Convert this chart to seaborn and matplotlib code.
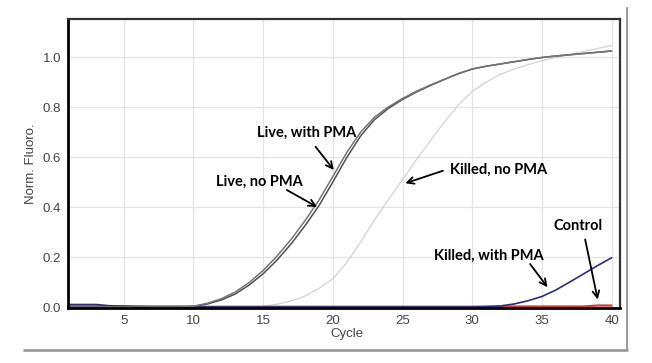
import pandas as pd
import matplotlib.pyplot as plt
import seaborn as sns
from matplotlib.lines import Line2D

# qPCR amplification curves
cycles = list(range(1, 41))

live_no_pma = [
    0.0, 0.0, 0.0, 0.0, 0.0, 0.0, 0.0, 0.0, 0.0, 0.002,
    0.012, 0.028, 0.052, 0.088, 0.133, 0.188, 0.252, 0.325, 0.405, 0.5,
    0.598, 0.685, 0.75, 0.795, 0.83, 0.86, 0.886, 0.91, 0.933, 0.952,
    0.963, 0.972, 0.981, 0.99, 0.998, 1.004, 1.009, 1.014, 1.019, 1.024,
]
live_with_pma = [
    0.0, 0.0, 0.0, 0.0, 0.0, 0.0, 0.0, 0.0, 0.0, 0.003,
    0.015, 0.033, 0.06, 0.098, 0.146, 0.204, 0.27, 0.345, 0.427, 0.522,
    0.618, 0.7, 0.76, 0.801, 0.834, 0.863, 0.888, 0.911, 0.934, 0.952,
    0.963, 0.972, 0.981, 0.99, 0.998, 1.004, 1.009, 1.014, 1.019, 1.024,
]
killed_no_pma = [
    0.0, 0.0, 0.0, 0.0, 0.0, 0.0, 0.0, 0.0, 0.0, 0.0,
    0.0, 0.0, 0.0, 0.0, 0.003, 0.011, 0.024, 0.044, 0.074, 0.113,
    0.178, 0.26, 0.35, 0.43, 0.51, 0.59, 0.665, 0.74, 0.808, 0.862,
    0.9, 0.93, 0.952, 0.97, 0.985, 0.998, 1.01, 1.022, 1.034, 1.046,
]
killed_with_pma = [
    0.01, 0.01, 0.01, 0.005, 0.003, 0.002, 0.001, 0.001, 0.001, 0.001,
    0.0, 0.0, 0.0, 0.0, 0.0, 0.0, 0.0, 0.0, 0.0, 0.0,
    0.0, 0.0, 0.0, 0.0, 0.0, 0.0, 0.0, 0.0, 0.0, 0.0,
    0.001, 0.004, 0.012, 0.025, 0.042, 0.068, 0.1, 0.133, 0.166, 0.197,
]
control = [
    0.003, 0.003, 0.003, 0.003, 0.003, 0.002, 0.002, 0.002, 0.002, 0.002,
    0.001, 0.001, 0.001, 0.001, 0.001, 0.001, 0.001, 0.001, 0.001, 0.001,
    0.001, 0.001, 0.001, 0.001, 0.001, 0.001, 0.001, 0.001, 0.001, 0.001,
    0.002, 0.002, 0.002, 0.002, 0.002, 0.002, 0.002, 0.002, 0.006, 0.006,
]

x_ticks = [5, 10, 15, 20, 25, 30, 35, 40]
y_ticks = [0.0, 0.2, 0.4, 0.6, 0.8, 1.0]

# label text position, arrow tail, arrow head (data coords)
labels = [
    ("Live, with PMA", (18.1, 0.696), (18.76, 0.641), (20.07, 0.548)),
    ("Live, no PMA", (14.75, 0.50), (16.7, 0.468), (18.87, 0.40)),
    ("Killed, no PMA", (31.9, 0.55), (27.9, 0.545), (25.2, 0.495)),
    ("Killed, with PMA", (31.2, 0.204), (34.15, 0.172), (35.4, 0.079)),
    ("Control", (37.6, 0.324), (38.1, 0.27), (39.0, 0.03)),
]

sns.set_theme(style="whitegrid")
plt.rcParams["font.family"] = ["Liberation Sans", "DejaVu Sans"]

series = [
    ("Killed, no PMA", killed_no_pma, "#d2d2d2", 0.9),
    ("Control", control, "#d23a3a", 1.6),
    ("Killed, with PMA", killed_with_pma, "#2e2e78", 1.2),
    ("Live, no PMA", live_no_pma, "#505050", 1.1),
    ("Live, with PMA", live_with_pma, "#757575", 1.1),
]

fig = plt.figure(figsize=(6.52, 3.63), dpi=100)
ax = fig.add_axes([68 / 652, 1 - 308 / 363, (620 - 68) / 652, (308 - 19) / 363])

for name, vals, color, lw in series:
    df = pd.DataFrame({"Cycle": cycles, "Norm. Fluoro.": vals})
    sns.lineplot(data=df, x="Cycle", y="Norm. Fluoro.", color=color,
                 linewidth=lw, ax=ax)

ax.set_xlim(1, 40.6)
ax.set_ylim(-0.004, 1.152)
ax.set_xticks(x_ticks)
ax.set_yticks(y_ticks)
ax.set_yticklabels([f"{v:.1f}" for v in y_ticks])
ax.grid(True, color="#e4e4e4", linewidth=0.9)
ax.tick_params(length=3, width=0.8, color="#555555", labelcolor="#444444",
               labelsize=9.5, pad=2)
ax.set_xlabel("Cycle", fontsize=9.5, color="#444444", labelpad=1, x=0.505)
ax.set_ylabel("Norm. Fluoro.", fontsize=9.5, color="#444444", labelpad=4)

for side in ["left", "bottom"]:
    ax.spines[side].set_color("black")
    ax.spines[side].set_linewidth(2)
for side in ["top", "right"]:
    ax.spines[side].set_color("#333333")
    ax.spines[side].set_linewidth(1.6)

for text, pos, tail, head in labels:
    ax.text(pos[0], pos[1], text, fontsize=10.5, fontweight="bold",
            family=["Lato", "DejaVu Sans"], ha="center", va="center",
            color="black")
    ax.annotate("", xy=head, xytext=tail,
                arrowprops=dict(arrowstyle="->", color="black", lw=1.3,
                                shrinkA=0, shrinkB=0))

# shadow-style frame around the picture
fig.add_artist(Line2D([24 / 652, 627 / 652], [1 - 350 / 363, 1 - 350 / 363],
                      color="#9a9a9a", linewidth=2))
fig.add_artist(Line2D([627 / 652, 627 / 652], [1 - 350 / 363, 1 - 8 / 363],
                      color="#9a9a9a", linewidth=1.5))

fig.savefig("out.png", dpi=100)
